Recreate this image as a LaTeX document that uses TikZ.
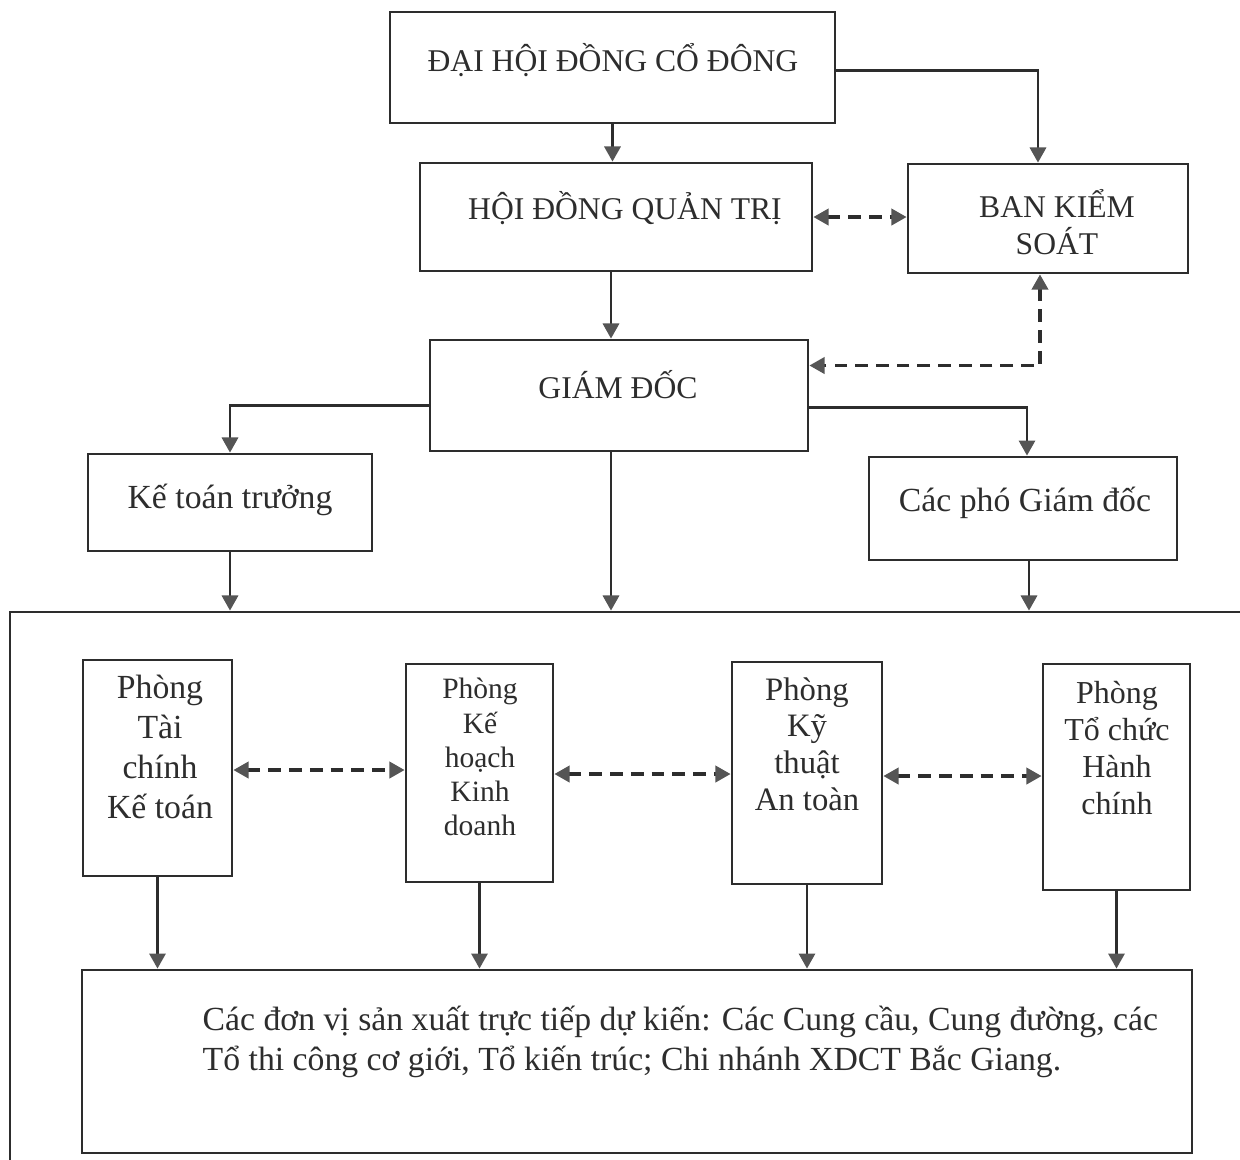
\documentclass[tikz,border=0pt]{standalone}
\usepackage{fontspec}
\setmainfont{Liberation Serif}
\usepackage{tikz}
\usetikzlibrary{arrows, arrows.meta}
\usetikzlibrary{positioning}
\usepackage{xcolor}
\definecolor{ink}{RGB}{45,45,45}
\definecolor{tip}{RGB}{85,85,85}

\tikzset{
  khung/.style={draw=ink, thick, inner sep=0pt},
  chu/.style={align=center, text=ink, inner sep=0pt, font=\fontsize{9.6}{11.4}\selectfont},
  chuhoa/.style={align=center, text=ink, inner sep=0pt, font=\fontsize{9}{10.6}\selectfont},
  muiten/.style={draw=ink, thick, -{Triangle[length=4.3pt, width=4.6pt, color=tip]}},
  haichieu/.style={draw=ink, line width=0.9pt, dash pattern=on 3.6pt off 2.3pt,
    {Triangle[length=4.3pt, width=4.6pt, color=tip]}-{Triangle[length=4.3pt, width=4.6pt, color=tip]}}
}

\begin{document}
\begin{tikzpicture}

\useasboundingbox (0,0) rectangle (12.4,-11.59);

%boxes
\node [khung, minimum width=4.45cm, minimum height=1.11cm] (dh) at (6.125,-0.675) {};
\node [khung, minimum width=3.92cm, minimum height=1.08cm] (hd) at (6.16,-2.17) {};
\node [khung, minimum width=2.80cm, minimum height=1.09cm] (bks) at (10.48,-2.185) {};
\node [khung, minimum width=3.78cm, minimum height=1.11cm] (gd) at (6.19,-3.955) {};
\node [khung, minimum width=2.84cm, minimum height=0.97cm] (ktt) at (2.30,-5.025) {};
\node [khung, minimum width=3.08cm, minimum height=1.03cm] (pgd) at (10.23,-5.085) {};
\node [khung, minimum width=12.5cm, minimum height=5.7cm] (khoi) at (6.35,-8.97) {};
\node [khung, minimum width=1.49cm, minimum height=2.16cm] (p1) at (1.575,-7.68) {};
\node [khung, minimum width=1.47cm, minimum height=2.18cm] (p2) at (4.795,-7.73) {};
\node [khung, minimum width=1.50cm, minimum height=2.22cm] (p3) at (8.07,-7.73) {};
\node [khung, minimum width=1.47cm, minimum height=2.26cm] (p4) at (11.165,-7.77) {};
\node [khung, minimum width=11.10cm, minimum height=1.83cm] (dv) at (6.37,-10.615) {};

%arrows
\draw [muiten] (dh.south) -- (dh.south |- hd.north);
\draw [muiten] ([yshift=-0.03cm]dh.east) -| ([xshift=-0.1cm]bks.north);
\draw [muiten] ([xshift=-0.05cm]hd.south) -- ([xshift=-0.05cm]hd.south |- gd.north);
\draw [muiten] ([yshift=-0.1cm]gd.west) -| (ktt.north);
\draw [muiten] ([yshift=-0.12cm]gd.east) -| ([xshift=0.04cm]pgd.north);
\draw [muiten] ([xshift=-0.08cm]gd.south) -- ([xshift=-0.08cm]gd.south |- khoi.north);
\draw [muiten] (ktt.south) -- (ktt.south |- khoi.north);
\draw [muiten] ([xshift=0.06cm]pgd.south) -- ([xshift=0.06cm]pgd.south |- khoi.north);
\foreach \p in {p1, p2, p3, p4}
  \draw [muiten] (\p.south) -- (\p.south |- dv.north);

%dashed links
\draw [haichieu] (hd.east) -- (hd.east -| bks.west);
\draw [haichieu] ([xshift=-0.08cm]bks.south) |- ([yshift=0.3cm]gd.east);
\draw [haichieu] ([yshift=-0.02cm]p1.east) -- ([yshift=-0.02cm]p1.east -| p2.west);
\draw [haichieu] ([yshift=-0.01cm]p2.east) -- ([yshift=-0.01cm]p2.east -| p3.west);
\draw [haichieu] ([yshift=-0.03cm]p3.east) -- ([yshift=-0.03cm]p3.east -| p4.west);

%labels
\node [chuhoa] (t-dh) at (6.13,-0.60) {ĐẠI HỘI ĐỒNG CỔ ĐÔNG};
\node [chuhoa] (t-hd) at (6.25,-2.08) {HỘI ĐỒNG QUẢN TRỊ};
\node [chuhoa, font=\fontsize{9}{10.4}\selectfont] (t-bks) at (10.57,-2.22) {BAN KIỂM\\SOÁT};
\node [chuhoa] (t-gd) at (6.18,-3.85) {GIÁM ĐỐC};
\node [chu] (t-ktt) at (2.30,-5.00) {Kế toán trưởng};
\node [chu] (t-pgd) at (10.25,-5.03) {Các phó Giám đốc};
\node [chu] (t-p1) at (1.60,-7.47) {Phòng\\Tài\\chính\\Kế toán};
\node [chu, font=\fontsize{8.4}{9.7}\selectfont] (t-p2) at (4.80,-7.57) {Phòng\\Kế\\hoạch\\Kinh\\doanh};
\node [chu, font=\fontsize{9.3}{10.4}\selectfont] (t-p3) at (8.07,-7.44) {Phòng\\Kỹ\\thuật\\An toàn};
\node [chu, font=\fontsize{9.1}{10.5}\selectfont] (t-p4) at (11.17,-7.48) {Phòng\\Tổ chức\\Hành\\chính};
\node [chu, align=left, anchor=west] (t-dv) at (2.02,-10.42)
  {Các đơn vị sản xuất trực tiếp dự kiến: Các Cung cầu, Cung đường, các\\Tổ thi công cơ giới, Tổ kiến trúc; Chi nhánh XDCT Bắc Giang.};

\end{tikzpicture}
\end{document}
